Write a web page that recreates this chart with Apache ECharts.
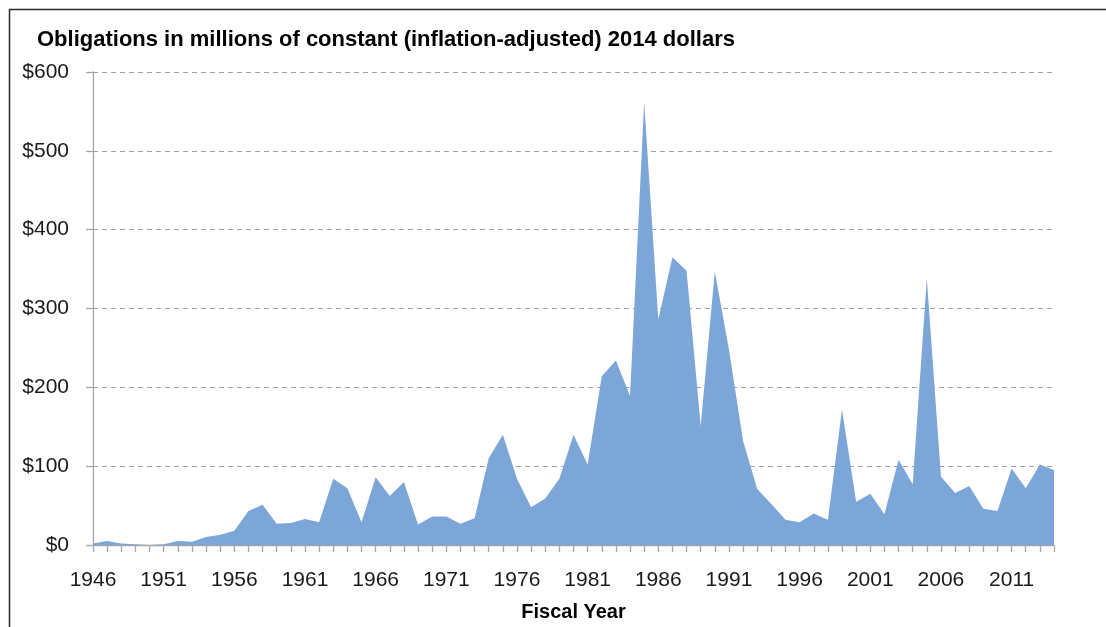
<!DOCTYPE html>
<html>
<head>
<meta charset="utf-8">
<script src="https://cdn.jsdelivr.net/npm/echarts@6/dist/echarts.min.js"></script>
<style>
  html, body { margin: 0; padding: 0; background: #ffffff; }
  #chart { width: 1106px; height: 627px; }
</style>
</head>
<body>
<div id="chart"></div>
<script>
// Fiscal years 1946..2014
const years = [
  '1946','1947','1948','1949','1950','1951','1952','1953','1954','1955',
  '1956','1957','1958','1959','1960','1961','1962','1963','1964','1965',
  '1966','1967','1968','1969','1970','1971','1972','1973','1974','1975',
  '1976','1977','1978','1979','1980','1981','1982','1983','1984','1985',
  '1986','1987','1988','1989','1990','1991','1992','1993','1994','1995',
  '1996','1997','1998','1999','2000','2001','2002','2003','2004','2005',
  '2006','2007','2008','2009','2010','2011','2012','2013','2014'
];
// Obligations, millions of constant 2014 dollars
const obligations = [
  2, 5, 2, 1, 0, 1, 5, 4, 10, 13,
  18, 43, 51, 27, 28, 33, 29, 84, 72, 29,
  86, 62, 80, 26, 36, 36, 27, 34, 110, 140,
  84, 48, 59, 84, 140, 102, 214, 234, 189, 562,
  286, 365, 348, 151, 347, 248, 132, 71, 52, 32,
  29, 40, 32, 172, 55, 65, 39, 108, 77, 338,
  87, 66, 75, 46, 43, 97, 72, 102, 95
];
const yTicks = [0, 100, 200, 300, 400, 500, 600];
const titleText = 'Obligations in millions of constant (inflation-adjusted) 2014 dollars';
const xAxisTitle = 'Fiscal Year';

const chart = echarts.init(document.getElementById('chart'), null, { renderer: 'canvas' });
const FONT = '"Liberation Sans", Arial, sans-serif';
chart.setOption({
  backgroundColor: '#ffffff',
  animation: false,
  title: {
    text: titleText,
    left: 32,
    top: 24,
    textStyle: { fontFamily: FONT, fontSize: 22, fontWeight: 'bold', color: '#000000' }
  },
  graphic: [{
    type: 'polyline',
    silent: true,
    shape: { points: [[9.5, 700], [9.5, 9.5], [1106, 9.5]] },
    style: { stroke: '#2b2b2b', lineWidth: 1.5, fill: null }
  }],
  grid: { left: 93, right: 52, top: 72, bottom: 71, containLabel: false },
  xAxis: {
    type: 'category',
    data: years,
    boundaryGap: false,
    name: xAxisTitle,
    nameLocation: 'middle',
    nameGap: 57,
    nameTextStyle: { fontFamily: FONT, fontSize: 20, fontWeight: 'bold', color: '#000000' },
    axisLine: { show: true, lineStyle: { color: '#a6a6a6', width: 1.3 } },
    axisTick: { show: true, interval: 0, length: 7, inside: false, lineStyle: { color: '#a6a6a6', width: 1.3 } },
    axisLabel: { interval: 4, margin: 25, fontFamily: FONT, fontSize: 21, color: '#1a1a1a' },
    splitLine: { show: false }
  },
  yAxis: {
    type: 'value',
    min: yTicks[0],
    max: yTicks[yTicks.length - 1],
    interval: 100,
    axisLine: { show: true, lineStyle: { color: '#a6a6a6', width: 1.3 } },
    axisTick: { show: true, length: 7, lineStyle: { color: '#a6a6a6', width: 1.3 } },
    axisLabel: {
      margin: 24,
      fontFamily: FONT, fontSize: 21, color: '#1a1a1a',
      formatter: v => '$' + v
    },
    splitLine: { show: true, lineStyle: { color: '#a0a0a0', type: [5, 4], width: 1 } }
  },
  series: [{
    type: 'line',
    data: obligations,
    symbol: 'none',
    smooth: false,
    lineStyle: { width: 0, color: '#7da6d8' },
    areaStyle: { color: '#7da6d8', opacity: 1 },
    itemStyle: { color: '#7da6d8' },
    z: 1
  }]
});
</script>
</body>
</html>
